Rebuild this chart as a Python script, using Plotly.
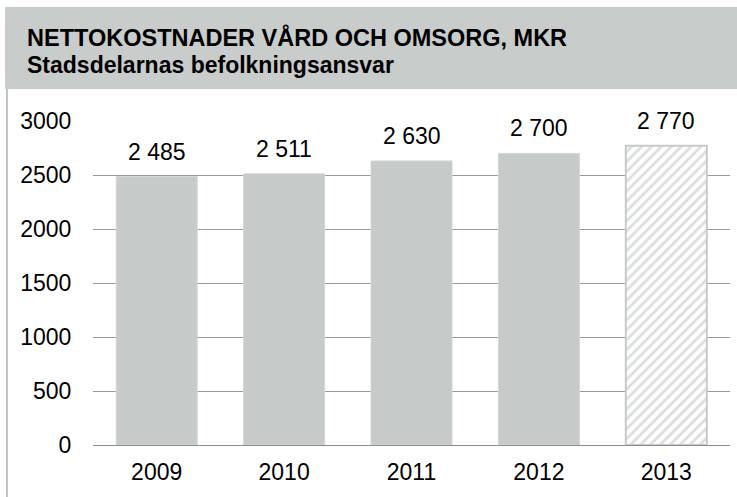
import plotly.graph_objects as go

years = ["2009", "2010", "2011", "2012", "2013"]
values = [2485, 2511, 2630, 2700, 2770]
value_labels = ["2 485", "2 511", "2 630", "2 700", "2 770"]
y_ticks = [0, 500, 1000, 1500, 2000, 2500, 3000]

title_line1 = "NETTOKOSTNADER VÅRD OCH OMSORG, MKR"
title_line2 = "Stadsdelarnas befolkningsansvar"

W, H = 737, 497
PL, PR, PT, PB = 93, 730, 121, 445  # plot area pixel bounds


def px(x):
    return (x - PL) / (PR - PL)


def py(y):
    return (PB - y) / (PB - PT)


BAR = "#c6cac9"
FONT = "Liberation Sans, Arial, sans-serif"

fig = go.Figure()
fig.add_trace(go.Bar(
    x=years[:-1], y=values[:-1],
    marker=dict(color=BAR, line=dict(color="#d4d7d6", width=1)),
    hoverinfo="skip",
))
fig.add_trace(go.Bar(
    x=years[-1:], y=values[-1:],
    marker=dict(color="white", line=dict(color=BAR, width=2),
                pattern=dict(shape="/", fgcolor="#b9bdbc", bgcolor="white", size=7, solidity=0.4)),
    hoverinfo="skip",
))

# category axis: annotations positioned by category index
for i, (v, lab) in enumerate(zip(values, value_labels)):
    fig.add_annotation(x=i, y=v, xref="x", yref="y", text=lab, showarrow=False, yanchor="middle",
                       yshift=25, font=dict(size=23, color="black", family=FONT))

shapes = [
    dict(type="rect", xref="paper", yref="paper", x0=px(5), x1=px(737), y0=py(89), y1=py(7),
         fillcolor="#c8cccb", line=dict(width=0), layer="below"),
    dict(type="rect", xref="paper", yref="paper", x0=px(6), x1=px(8), y0=py(497), y1=py(89),
         fillcolor="#c0c4c3", line=dict(width=0), layer="below"),
]

fig.add_annotation(xref="paper", yref="paper", x=px(25), y=py(38), text="<b>" + title_line1 + "</b>",
                   showarrow=False, xanchor="left", yanchor="middle",
                   font=dict(size=23.5, color="black", family=FONT))
fig.add_annotation(xref="paper", yref="paper", x=px(25), y=py(65), text="<b>" + title_line2 + "</b>",
                   showarrow=False, xanchor="left", yanchor="middle",
                   font=dict(size=23, color="black", family=FONT))

fig.update_layout(
    width=W, height=H,
    margin=dict(l=PL, r=W - PR, t=PT, b=H - PB, pad=0, autoexpand=False),
    paper_bgcolor="white", plot_bgcolor="white",
    showlegend=False, bargap=0.364, barmode="overlay",
    shapes=shapes,
    font=dict(family=FONT, size=23, color="black"),
    xaxis=dict(type="category", categoryorder="array", categoryarray=years, range=[-0.5, 4.5],
               showgrid=False, showline=False, zeroline=False,
               tickfont=dict(size=23, color="black"), ticks="outside", ticklen=6, tickcolor="white"),
    yaxis=dict(range=[0, 3000], autorange=False, tickvals=y_ticks, showgrid=True, gridcolor="#9a9a9a", gridwidth=1,
               zeroline=True, zerolinecolor="#8c8c8c", zerolinewidth=1, showline=False,
               tickfont=dict(size=23, color="black"), ticks="outside", ticklen=16, tickcolor="white"),
)

fig.write_html("out.html", config={"displayModeBar": False},
               post_script="document.body.style.margin='0';")
